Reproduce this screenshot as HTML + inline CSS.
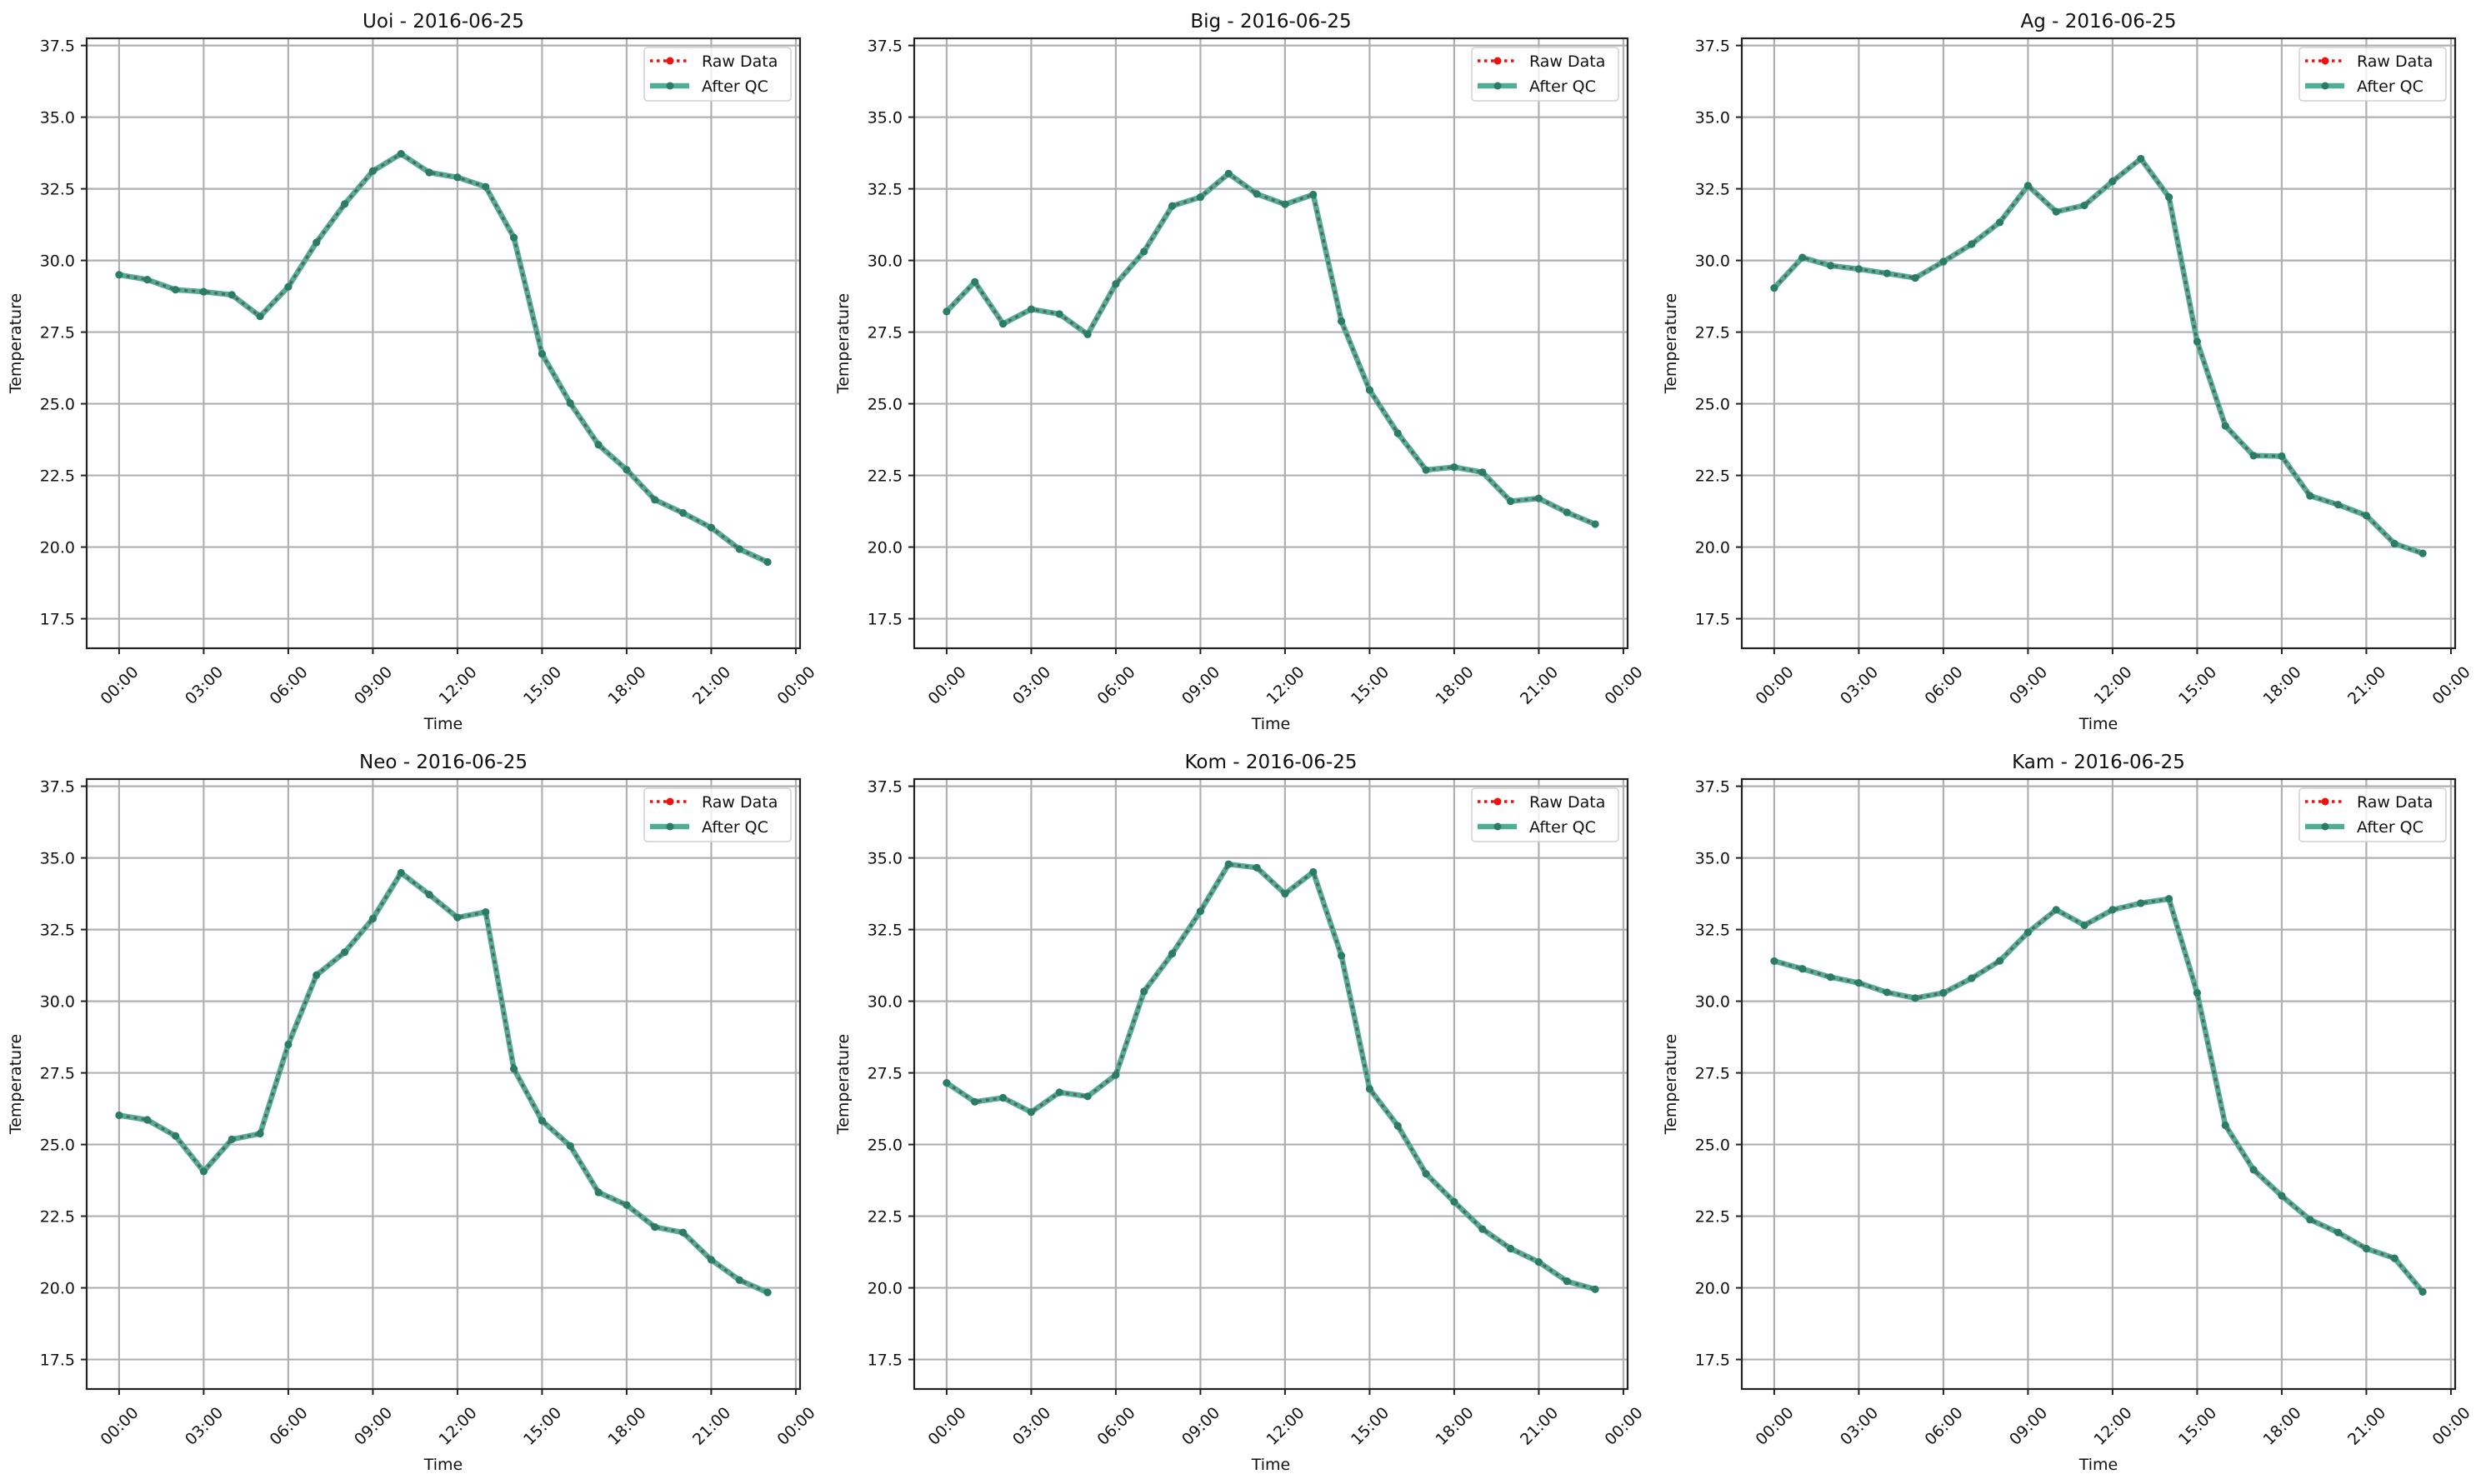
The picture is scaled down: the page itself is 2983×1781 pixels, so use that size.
<!DOCTYPE html>
<html><head><meta charset="utf-8"><style>
html,body{margin:0;padding:0;background:#fff;}
svg{display:block;font-family:"DejaVu Sans","Liberation Sans",sans-serif;}
</style></head><body>
<svg id="fig" width="2983" height="1781" viewBox="0 0 2983 1781" xmlns="http://www.w3.org/2000/svg"></svg>
<script>
const hours = [0,1,2,3,4,5,6,7,8,9,10,11,12,13,14,15,16,17,18,19,20,21,22,23];
const stationNames = ["Uoi","Big","Ag","Neo","Kom","Kam"];
const dateLabel = "2016-06-25";
const uoiValues = [29.5,29.33,28.98,28.91,28.8,28.05,29.08,30.63,31.97,33.12,33.72,33.07,32.9,32.57,30.8,26.74,25.02,23.57,22.7,21.65,21.19,20.68,19.93,19.48];
const bigValues = [28.22,29.25,27.79,28.3,28.13,27.42,29.18,30.31,31.9,32.21,33.03,32.32,31.96,32.3,27.88,25.48,23.97,22.69,22.79,22.61,21.6,21.7,21.21,20.8];
const agValues = [29.04,30.1,29.82,29.7,29.55,29.39,29.96,30.57,31.33,32.61,31.7,31.92,32.76,33.55,32.21,27.17,24.23,23.19,23.17,21.79,21.48,21.1,20.12,19.78];
const neoValues = [26.02,25.86,25.3,24.06,25.18,25.38,28.49,30.91,31.71,32.88,34.48,33.72,32.92,33.11,27.64,25.83,24.95,23.33,22.89,22.12,21.93,20.98,20.27,19.84];
const komValues = [27.15,26.49,26.63,26.13,26.82,26.68,27.43,30.34,31.66,33.14,34.78,34.66,33.75,34.51,31.59,26.94,25.65,23.98,23.0,22.05,21.37,20.9,20.23,19.95];
const kamValues = [31.4,31.13,30.84,30.64,30.31,30.11,30.29,30.8,31.41,32.4,33.19,32.65,33.19,33.42,33.57,30.29,25.67,24.12,23.21,22.38,21.93,21.37,21.03,19.86];
const yTicks = [17.5,20.0,22.5,25.0,27.5,30.0,32.5,35.0,37.5];
const xTicks = [0,3,6,9,12,15,18,21,24];
const xTickLabels = ["00:00","03:00","06:00","09:00","12:00","15:00","18:00","21:00","00:00"];

const allSeries = [uoiValues,bigValues,agValues,neoValues,komValues,kamValues];
const NS = "http://www.w3.org/2000/svg";
const svg = document.getElementById("fig");
const colX = [104,1097,2090], rowY = [46,935];
const W = 856, H = 732;
const XMIN = -1.15, XMAX = 24.15, YMIN = 16.47, YMAX = 37.75;

function mk(tag, attrs, parent){
  const e = document.createElementNS(NS, tag);
  for (const k in attrs) e.setAttribute(k, attrs[k]);
  (parent||svg).appendChild(e);
  return e;
}

allSeries.forEach((vals, idx) => {
  const L = colX[idx%3], T = rowY[Math.floor(idx/3)];
  const sx = h => L + (h - XMIN) / (XMAX - XMIN) * W;
  const sy = v => T + (YMAX - v) / (YMAX - YMIN) * H;
  const g = mk("g", {});
  
  

  yTicks.forEach(v => {
    const ln = mk("line", {x1:L, x2:L+W, y1:sy(v), y2:sy(v), stroke:"#b0b0b0", "stroke-width":2.2}, g);
    
    
  });
  xTicks.forEach(h => {
    const ln = mk("line", {x1:sx(h), x2:sx(h), y1:T, y2:T+H, stroke:"#b0b0b0", "stroke-width":2.2}, g);
    
    
  });

  const pts = hours.map((h,i) => sx(h).toFixed(1) + "," + sy(vals[i]).toFixed(1)).join(" ");
  const qc = mk("polyline", {points:pts, fill:"none", stroke:"#52ad95", "stroke-width":6.5, "stroke-linejoin":"round"}, g);
  
  
  const raw = mk("polyline", {points:pts, fill:"none", stroke:"#5b625d", "stroke-width":3.2, "stroke-dasharray":"4,5"}, g);
  
  
  hours.forEach((h,i) => {
    const c = mk("circle", {cx:sx(h), cy:sy(vals[i]), r:4.6, fill:"#2a7d64"}, g);
    
    
  });

  const fr = mk("rect", {x:L, y:T, width:W, height:H, fill:"none", stroke:"#222", "stroke-width":2.2}, g);
  
  

  yTicks.forEach(v => {
    const tk = mk("line", {x1:L-7, x2:L, y1:sy(v), y2:sy(v), stroke:"#222", "stroke-width":2}, g);
    
    
    const t = mk("text", {x:L-14, y:sy(v)+7, "font-size":19, "text-anchor":"end", fill:"#111"}, g);
    
    
    t.textContent = v.toFixed(1);
  });
  xTicks.forEach((h,i) => {
    const tk = mk("line", {x1:sx(h), x2:sx(h), y1:T+H, y2:T+H+7, stroke:"#222", "stroke-width":2}, g);
    
    
    const cx = sx(h), cy = T+H+44;
    const t = mk("text", {x:cx, y:cy+7, "font-size":19, "text-anchor":"middle", fill:"#111", transform:"rotate(-45 "+cx+" "+cy+")"}, g);
    
    
    t.textContent = xTickLabels[i];
  });

  const ti = mk("text", {x:L+W/2, y:T-13, "font-size":23, "text-anchor":"middle", fill:"#111"}, g);
  
  
  ti.textContent = stationNames[idx] + " - " + dateLabel;
  const xl = mk("text", {x:L+W/2, y:T+H+97, "font-size":19, "text-anchor":"middle", fill:"#111"}, g);
  
  
  xl.textContent = "Time";
  const yc = T+H/2, yx = L-79;
  const yl = mk("text", {x:yx, y:yc, "font-size":19, "text-anchor":"middle", fill:"#111", transform:"rotate(-90 "+yx+" "+yc+")"}, g);
  
  
  yl.textContent = "Temperature";

  const lx = L+669, ly = T+11;
  const lg = mk("g", {}, g);
  
  
  mk("rect", {x:lx, y:ly, width:176, height:64, rx:4, fill:"rgba(255,255,255,0.8)", stroke:"#d0d0d0", "stroke-width":1.5}, lg);
  const r1 = mk("line", {x1:lx+7, x2:lx+54, y1:ly+16, y2:ly+16, stroke:"#ee1111", "stroke-width":3.5, "stroke-dasharray":"3.5,4.5"}, lg);
  
  
  mk("circle", {cx:lx+31, cy:ly+16, r:4.5, fill:"#ee1111"}, lg);
  const t1 = mk("text", {x:lx+69, y:ly+23, "font-size":19, fill:"#111"}, lg);
  
  
  t1.textContent = "Raw Data";
  const r2 = mk("line", {x1:lx+7, x2:lx+54, y1:ly+46, y2:ly+46, stroke:"#52ad95", "stroke-width":6.5}, lg);
  
  
  mk("circle", {cx:lx+31, cy:ly+46, r:4.5, fill:"#2a7d64"}, lg);
  const t2 = mk("text", {x:lx+69, y:ly+53, "font-size":19, fill:"#111"}, lg);
  
  
  t2.textContent = "After QC";
});
</script>
</body></html>
